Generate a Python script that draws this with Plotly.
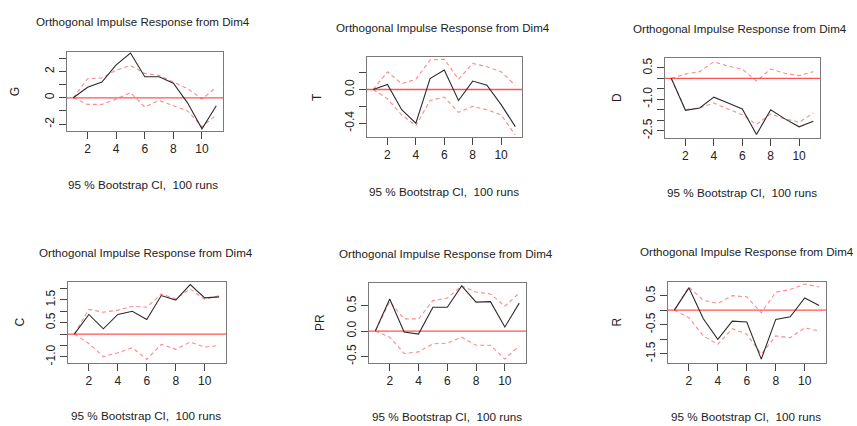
import plotly.graph_objects as go

W, H = 857, 426

steps = [1, 2, 3, 4, 5, 6, 7, 8, 9, 10, 11]
x_ticks = [2, 4, 6, 8, 10]

title_text = "Orthogonal Impulse Response from Dim4"
sub_text = "95 % Bootstrap CI,\u00a0\u00a0100 runs"

names = ["G", "T", "D", "C", "PR", "R"]

g_irf = [0, 0.8, 1.2, 2.5, 3.4, 1.6, 1.6, 1.1, -0.4, -2.35, -0.6]
g_upper = [0, 1.45, 1.5, 2.1, 2.45, 1.85, 1.7, 1.2, 0.7, -0.1, 0.8]
g_lower = [0, -0.5, -0.5, -0.1, 0.4, -0.7, -0.2, -0.6, -1.0, -2.2, -1.3]

t_irf = [0, 0.06, -0.24, -0.40, 0.13, 0.23, -0.13, 0.10, 0.05, -0.18, -0.44]
t_upper = [0, 0.21, 0.07, 0.12, 0.35, 0.36, 0.12, 0.31, 0.27, 0.21, 0.05]
t_lower = [0, -0.11, -0.30, -0.43, -0.13, -0.09, -0.27, -0.20, -0.24, -0.30, -0.54]

d_irf = [0, -1.53, -1.42, -0.90, -1.18, -1.47, -2.69, -1.50, -1.94, -2.32, -2.05]
d_upper = [0, 0.2, 0.32, 0.79, 0.58, 0.44, -0.13, 0.44, 0.24, 0.13, 0.32]
d_lower = [0, -1.50, -1.42, -1.18, -1.47, -1.74, -2.21, -1.71, -1.94, -2.10, -1.66]

c_irf = [0, 0.86, 0.23, 0.86, 1.0, 0.64, 1.69, 1.49, 2.17, 1.59, 1.63]
c_upper = [0, 1.08, 0.96, 1.05, 1.22, 1.18, 1.76, 1.55, 1.98, 1.52, 1.69]
c_lower = [0, -0.41, -0.99, -0.82, -0.6, -1.11, -0.45, -0.67, -0.35, -0.57, -0.50]

pr_irf = [0, 0.63, -0.02, -0.06, 0.47, 0.47, 0.89, 0.57, 0.58, 0.08, 0.55]
pr_upper = [0, 0.58, 0.24, 0.24, 0.60, 0.65, 0.89, 0.77, 0.73, 0.49, 0.75]
pr_lower = [0, -0.12, -0.44, -0.41, -0.25, -0.24, -0.12, -0.28, -0.28, -0.55, -0.29]

r_irf = [0, 0.77, -0.30, -1.01, -0.38, -0.41, -1.69, -0.32, -0.23, 0.42, 0.16]
r_upper = [0, 0.80, 0.34, 0.23, 0.50, 0.46, -0.09, 0.62, 0.71, 0.90, 0.80]
r_lower = [0, -0.26, -0.89, -1.18, -0.64, -0.83, -1.52, -0.89, -0.95, -0.61, -0.72]

irfs = [g_irf, t_irf, d_irf, c_irf, pr_irf, r_irf]
uppers = [g_upper, t_upper, d_upper, c_upper, pr_upper, r_upper]
lowers = [g_lower, t_lower, d_lower, c_lower, pr_lower, r_lower]

y_tickvals = [
    [-2, -1, 0, 1, 2, 3],
    [-0.4, -0.2, 0, 0.2],
    [-2.5, -2, -1.5, -1, -0.5, 0, 0.5],
    [-1, -0.5, 0, 0.5, 1, 1.5, 2],
    [-0.5, 0, 0.5],
    [-1.5, -1, -0.5, 0, 0.5],
]
y_ticktext = [
    ["-2", "", "0", "", "2", ""],
    ["-0.4", "", "0.0", ""],
    ["-2.5", "", "", "-1.0", "", "", "0.5"],
    ["-1.0", "", "", "0.5", "", "1.5", ""],
    ["-0.5", "0.0", "0.5"],
    ["-1.5", "", "-0.5", "", "0.5"],
]
y_ranges = [
    [-2.5, 3.51],
    [-0.56, 0.38],
    [-2.84, 0.95],
    [-1.25, 2.27],
    [-0.62, 0.94],
    [-1.81, 0.96],
]
x_range = [0.56, 11.47]

# panel geometry in pixels: box (x0, x1, y0, y1), title centre, subtitle centre, ylabel x
boxes = [
    (67, 223, 51, 131),
    (367, 522, 57, 137),
    (665, 820, 58, 138),
    (68, 226, 284, 365),
    (369, 526, 285, 365),
    (668, 826, 284, 365),
]
title_pos = [(143, 21), (443, 27), (740, 28), (146, 254), (446, 255), (747, 253)]
sub_pos = [(143, 185), (444, 192), (742, 193), (146, 418), (447, 419), (746, 419)]
ylab_x = [15, 317, 617, 20, 320, 617]

FONT = "Liberation Sans, Arial, sans-serif"
BOX = "#7a7a7a"
RED = "rgba(255,40,40,0.8)"
PINK = "rgba(255,60,60,0.6)"

fig = go.Figure()
annotations = []
shapes = []

for i in range(6):
    ax = "" if i == 0 else str(i + 1)
    xa, ya = "x" + ax, "y" + ax
    for vals, col, dash in [(uppers[i], PINK, "4px,3px"), (lowers[i], PINK, "4px,3px"),
                            (irfs[i], "#2b2b2b", "solid")]:
        fig.add_trace(go.Scatter(x=steps, y=vals, mode="lines", xaxis=xa, yaxis=ya,
                                 line=dict(color=col, width=1.1, dash=dash),
                                 showlegend=False, hoverinfo="skip"))
    bx0, bx1, by0, by1 = boxes[i]
    common = dict(showline=True, mirror=True, linecolor=BOX, linewidth=1.3,
                  showgrid=False, zeroline=False, ticks="outside", ticklen=7,
                  tickcolor="#444", tickwidth=1,
                  tickfont=dict(family=FONT, size=12, color="#222"))
    fig.layout["xaxis" + ax] = dict(domain=[bx0 / W, bx1 / W], range=x_range,
                                    anchor=ya, tickvals=x_ticks, **common)
    fig.layout["yaxis" + ax] = dict(domain=[1 - by1 / H, 1 - by0 / H], range=y_ranges[i],
                                    anchor=xa, tickvals=y_tickvals[i], ticktext=y_ticktext[i],
                                    tickangle=-90, **common)
    # horizontal reference line at zero
    shapes.append(dict(type="line", xref=xa + " domain", yref=ya, x0=0, x1=1, y0=0, y1=0,
                       line=dict(color=RED, width=1.3), layer="below"))
    tx, ty = title_pos[i]
    annotations.append(dict(text=title_text, x=tx / W, y=1 - ty / H, xref="paper", yref="paper",
                            xanchor="center", yanchor="middle", showarrow=False,
                            font=dict(family=FONT, size=11.6, color="#222")))
    sx, sy = sub_pos[i]
    annotations.append(dict(text=sub_text, x=sx / W, y=1 - sy / H, xref="paper", yref="paper",
                            xanchor="center", yanchor="middle", showarrow=False,
                            font=dict(family=FONT, size=11.7, color="#222")))
    annotations.append(dict(text=names[i], x=ylab_x[i] / W, y=1 - (by0 + by1) / 2 / H,
                            xref="paper", yref="paper", xanchor="center", yanchor="middle",
                            textangle=-90, showarrow=False,
                            font=dict(family=FONT, size=12, color="#222")))

fig.update_layout(width=W, height=H, margin=dict(l=0, r=0, t=0, b=0),
                  paper_bgcolor="white", plot_bgcolor="white",
                  annotations=annotations, shapes=shapes)

fig.write_html("out.html")
